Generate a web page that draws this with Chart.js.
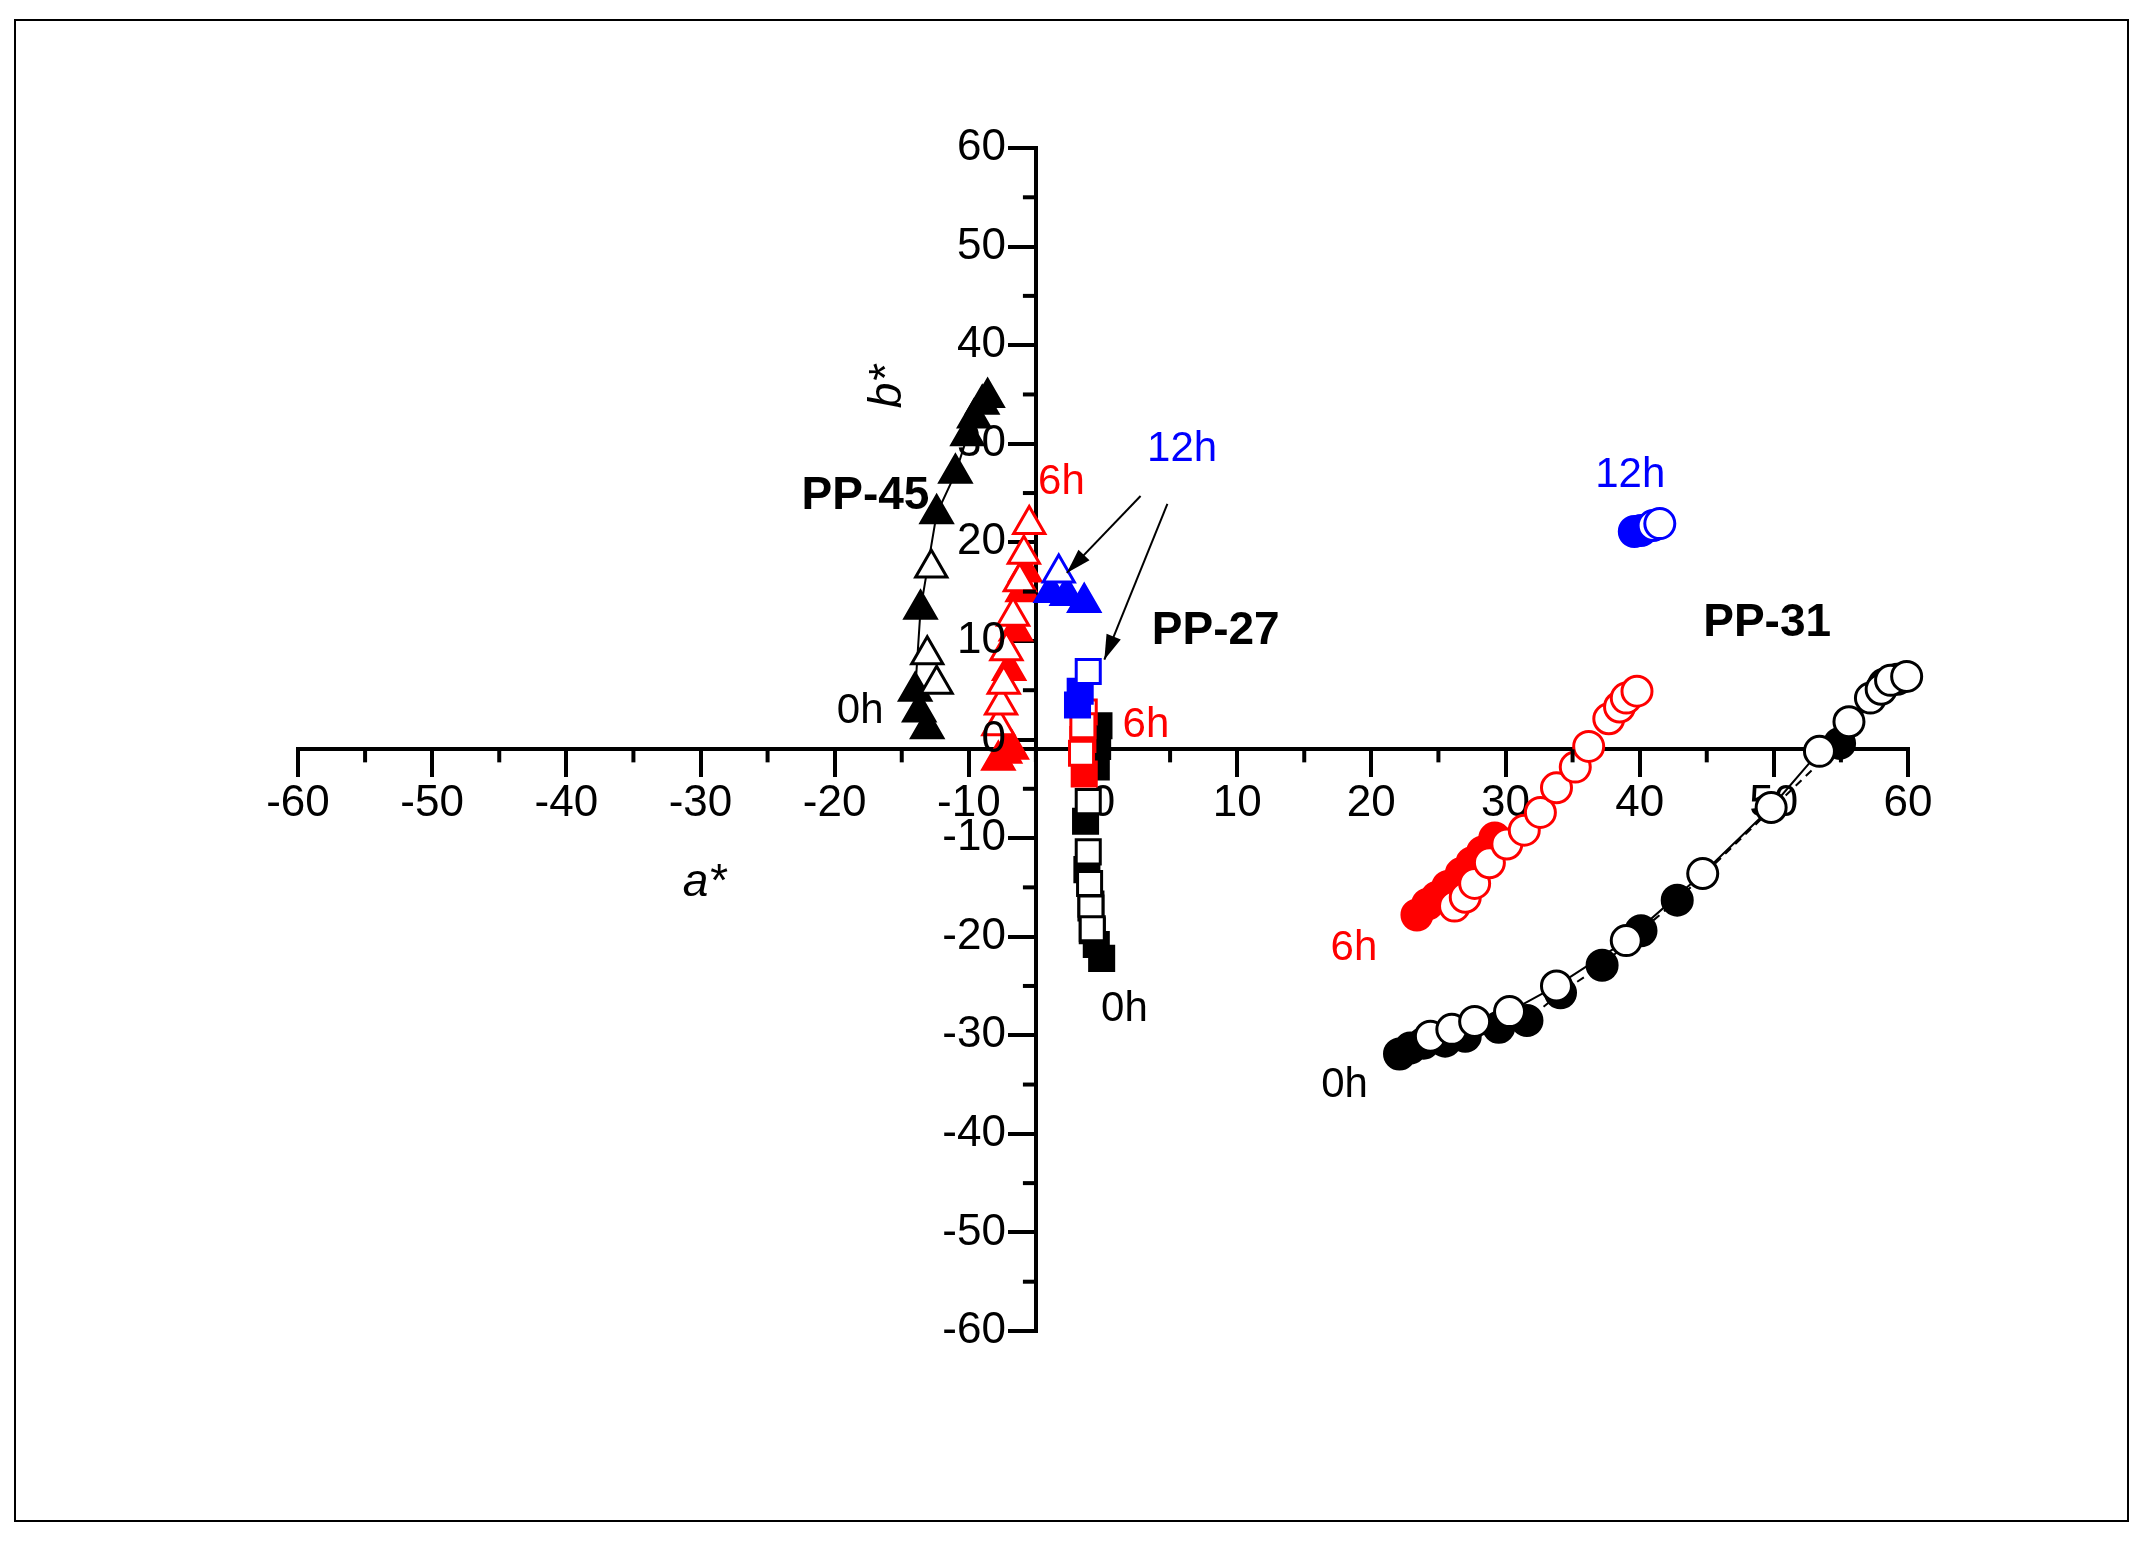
<!DOCTYPE html>
<html>
<head>
<meta charset="utf-8">
<script src="https://cdn.jsdelivr.net/npm/chart.js@4"></script>
<style>
  html, body { margin: 0; padding: 0; background: #fff; }
  #frame { position: absolute; left: 14px; top: 19px; width: 2111px; height: 1499px; border: 2px solid #000; }
  #wrap { position: absolute; left: 0; top: 0; width: 2142px; height: 1543px; }
</style>
</head>
<body>
<div id="frame"></div>
<div id="wrap"><canvas id="c" width="2142" height="1543"></canvas></div>
<script>
// axis ticks
const xTicks = [-60, -50, -40, -30, -20, -10, 0, 10, 20, 30, 40, 50, 60];
const yTicks = [-60, -50, -40, -30, -20, -10, 0, 10, 20, 30, 40, 50, 60];

// PP-45 (triangles)
const pp45Black = [[-8.6,34.7],[-9.0,34.0],[-9.6,32.6],[-10.1,30.8],[-11.0,27.0],[-12.4,22.9],[-13.6,13.2],[-14.0,4.9],[-13.7,2.8],[-13.1,1.1]];
const pp45BlackOpen = [[-12.8,17.4],[-13.1,8.6],[-12.4,5.6]];
const pp45Red = [[-7.8,-2.1],[-7.3,-1.4],[-6.8,-1.0],[-7.0,7.0],[-6.5,11.0],[-6.0,15.0],[-5.8,17.0]];
const pp45RedOpen = [[-7.8,1.4],[-7.6,3.5],[-7.4,5.6],[-7.2,9.0],[-6.7,12.5],[-6.2,16.0],[-5.9,18.8],[-5.5,21.8]];
const pp45Blue = [[-3.9,14.9],[-2.7,14.6],[-1.4,13.9]];
const pp45BlueOpen = [[-3.3,16.9]];

// PP-27 (squares)
const pp27Black = [[-0.3,1.4],[-0.4,-0.7],[-0.5,-2.8],[-1.3,-8.3],[-1.2,-13.2],[-0.9,-16.7],[-0.8,-19.4],[-0.5,-20.8],[-0.1,-22.2]];
const pp27BlackOpen = [[-1.1,-6.3],[-1.1,-11.4],[-1.0,-14.6],[-0.9,-17.1],[-0.8,-19.2]];
const pp27Red = [[-1.5,0.0],[-1.4,-3.5]];
const pp27RedOpen = [[-1.4,2.8],[-1.5,1.4],[-1.6,-1.4]];
const pp27Blue = [[-1.9,3.5],[-1.7,4.9]];
const pp27BlueOpen = [[-1.1,6.9]];

// PP-31 (circles)
const pp31Black = [[22.1,-31.9],[22.9,-31.3],[23.9,-30.8],[25.5,-30.6],[27.0,-30.1],[29.5,-29.2],[31.6,-28.5],[34.1,-25.7],[37.2,-22.9],[40.1,-19.4],[42.8,-16.3],[54.9,-0.4],[58.2,5.6],[59.2,6.1]];
const pp31BlackOpen = [[24.4,-30.1],[26.0,-29.4],[27.7,-28.6],[30.3,-27.6],[33.8,-25.0],[39.0,-20.4],[44.7,-13.6],[49.8,-6.9],[53.4,-1.2],[55.6,1.8],[57.2,4.2],[58.0,5.1],[58.7,6.0],[59.9,6.4]];
const pp31Red = [[23.4,-17.8],[24.2,-16.7],[24.9,-16.0],[25.7,-14.9],[26.7,-13.6],[27.5,-12.5],[28.3,-11.4],[29.2,-10.0]];
const pp31RedOpen = [[26.2,-16.9],[27.0,-16.0],[27.7,-14.6],[28.8,-12.5],[30.1,-10.6],[31.4,-9.2],[32.6,-7.4],[33.8,-4.9],[35.2,-2.8],[36.2,-0.7],[37.7,2.1],[38.5,3.3],[39.0,4.2],[39.8,4.9]];
const pp31Blue = [[39.6,21.1],[40.1,21.2]];
const pp31BlueOpen = [[41.0,21.7],[41.5,21.9]];

// labels on the plot
const notes = [
  { t: 'PP-45', x: -17.7, y: 24.7, c: '#000', bold: true },
  { t: 'PP-27', x: 8.4, y: 11.0, c: '#000', bold: true },
  { t: 'PP-31', x: 49.5, y: 11.8, c: '#000', bold: true },
  { t: '0h', x: -18.1, y: 2.8, c: '#000' },
  { t: '6h', x: -3.1, y: 26.1, c: '#ff0000' },
  { t: '12h', x: 5.9, y: 29.4, c: '#0000ff' },
  { t: '6h', x: 3.2, y: 1.4, c: '#ff0000' },
  { t: '0h', x: 1.6, y: -27.4, c: '#000' },
  { t: '12h', x: 39.3, y: 26.8, c: '#0000ff' },
  { t: '6h', x: 18.7, y: -21.2, c: '#ff0000' },
  { t: '0h', x: 18.0, y: -35.1, c: '#000' }
];
const arrows = [[2.8, 24.7, -2.7, 16.9], [4.8, 23.9, 0.1, 8.1]];

const FONT = '"Liberation Sans", Arial, sans-serif';
const pts = arr => arr.map(p => ({ x: p[0], y: p[1] }));

function ds(data, shape, color, open, line, dash) {
  const r = { circle: 15, rect: 17, triangle: 18 }[shape];
  return {
    data: pts(data),
    pointStyle: shape,
    pointRadius: r,
    pointBackgroundColor: open ? '#fff' : color,
    pointBorderColor: color,
    pointBorderWidth: 3,
    showLine: !!line,
    borderColor: '#000',
    borderWidth: 2,
    borderDash: dash || [],
    clip: false
  };
}

const extras = {
  id: 'extras',
  afterDraw(chart) {
    const ctx = chart.ctx, xs = chart.scales.x, ys = chart.scales.y;
    const ax = xs.getPixelForValue(-5), ay = ys.getPixelForValue(-1);
    ctx.save();
    ctx.strokeStyle = '#000';
    ctx.lineWidth = 4;
    // minor ticks
    for (let v = -55; v <= 55; v += 10) {
      const px = xs.getPixelForValue(v);
      ctx.beginPath(); ctx.moveTo(px, ay); ctx.lineTo(px, ay + 13); ctx.stroke();
      const py = ys.getPixelForValue(v);
      ctx.beginPath(); ctx.moveTo(ax, py); ctx.lineTo(ax - 13, py); ctx.stroke();
    }
    // y tick labels, left of the axis
    ctx.fillStyle = '#000';
    ctx.font = '44px ' + FONT;
    ctx.textAlign = 'right';
    ctx.textBaseline = 'middle';
    yTicks.forEach(v => ctx.fillText(String(v), ax - 30, ys.getPixelForValue(v)));
    // arrows
    ctx.lineWidth = 2;
    arrows.forEach(a => {
      const x1 = xs.getPixelForValue(a[0]), y1 = ys.getPixelForValue(a[1]);
      const x2 = xs.getPixelForValue(a[2]), y2 = ys.getPixelForValue(a[3]);
      const ang = Math.atan2(y2 - y1, x2 - x1);
      ctx.beginPath(); ctx.moveTo(x1, y1); ctx.lineTo(x2, y2); ctx.stroke();
      ctx.beginPath();
      ctx.moveTo(x2, y2);
      ctx.lineTo(x2 - 26 * Math.cos(ang - 0.3), y2 - 26 * Math.sin(ang - 0.3));
      ctx.lineTo(x2 - 26 * Math.cos(ang + 0.3), y2 - 26 * Math.sin(ang + 0.3));
      ctx.closePath(); ctx.fill();
    });
    // text
    ctx.textAlign = 'center';
    notes.forEach(n => {
      ctx.font = (n.bold ? 'bold 46px ' : '42px ') + FONT;
      ctx.fillStyle = n.c;
      ctx.fillText(n.t, xs.getPixelForValue(n.x), ys.getPixelForValue(n.y));
    });
    // axis titles
    ctx.fillStyle = '#000';
    ctx.font = 'italic 46px ' + FONT;
    ctx.fillText('a*', xs.getPixelForValue(-29.7), ys.getPixelForValue(-14.6));
    ctx.translate(xs.getPixelForValue(-16), ys.getPixelForValue(35.8));
    ctx.rotate(-Math.PI / 2);
    ctx.fillText('b*', 0, 0);
    ctx.restore();
  }
};

new Chart(document.getElementById('c').getContext('2d'), {
  type: 'scatter',
  data: {
    datasets: [
      ds(pp45BlueOpen, 'triangle', '#0000ff', true),
      ds(pp45Blue, 'triangle', '#0000ff', false),
      ds(pp45RedOpen, 'triangle', '#ff0000', true),
      ds(pp45Red, 'triangle', '#ff0000', false),
      ds(pp45BlackOpen, 'triangle', '#000', true),
      ds(pp45Black, 'triangle', '#000', false, true),
      ds(pp27BlueOpen, 'rect', '#0000ff', true),
      ds(pp27Blue, 'rect', '#0000ff', false),
      ds(pp27RedOpen, 'rect', '#ff0000', true),
      ds(pp27Red, 'rect', '#ff0000', false),
      ds(pp27BlackOpen, 'rect', '#000', true),
      ds(pp27Black, 'rect', '#000', false),
      ds(pp31BlueOpen, 'circle', '#0000ff', true),
      ds(pp31Blue, 'circle', '#0000ff', false),
      ds(pp31RedOpen, 'circle', '#ff0000', true),
      ds(pp31Red, 'circle', '#ff0000', false),
      ds(pp31BlackOpen, 'circle', '#000', true, true),
      ds(pp31Black, 'circle', '#000', false, true, [8, 6])
    ]
  },
  options: {
    responsive: false,
    animation: false,
    layout: { padding: { left: 298, right: 234, top: 148, bottom: 212 } },
    plugins: { legend: { display: false }, tooltip: { enabled: false } },
    scales: {
      x: {
        type: 'linear', min: -60, max: 60,
        position: { y: -1 },
        afterFit(s) { s.height = 0; },
        afterBuildTicks(s) { s.ticks = xTicks.map(v => ({ value: v })); },
        border: { color: '#000', width: 4 },
        grid: { drawOnChartArea: false, color: '#000', lineWidth: 4, tickLength: 26 },
        ticks: { color: '#000', font: { family: FONT, size: 44 }, padding: 2 }
      },
      y: {
        type: 'linear', min: -60, max: 60,
        position: { x: -5 },
        afterFit(s) { s.width = 0; },
        afterBuildTicks(s) { s.ticks = yTicks.map(v => ({ value: v })); },
        border: { color: '#000', width: 4 },
        grid: { drawOnChartArea: false, color: '#000', lineWidth: 4, tickLength: 26 },
        ticks: { display: false }
      }
    }
  },
  plugins: [extras]
});
</script>
</body>
</html>
